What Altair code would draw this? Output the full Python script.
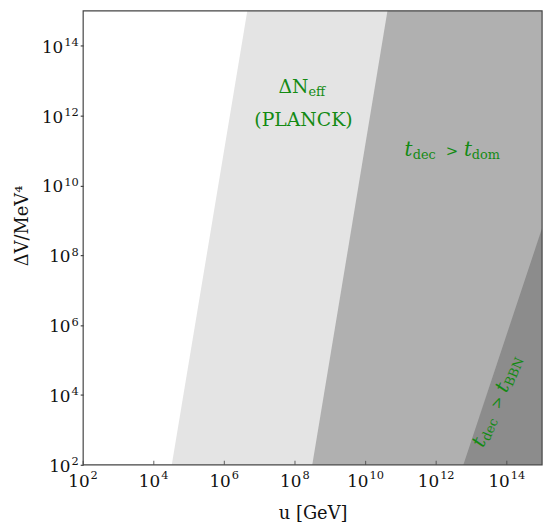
import altair as alt
import pandas as pd

# ---- data (log10 values) ----
tick_exponents = [2, 4, 6, 8, 10, 12, 14]
tick_values = [10.0 ** e for e in tick_exponents]

# left boundaries of the shaded regions: (log10 u, log10 DeltaV) end points
planck_logu = [4.51, 6.65]
planck_logV = [2.0, 15.0]
dom_logu = [8.49, 10.62]
dom_logV = [2.0, 15.0]
bbn_logu = [12.77, 15.0]
bbn_logV = [2.0, 8.78]
axis_min_log, axis_max_log = 2.0, 15.0

# annotation anchors (log10 u, log10 DeltaV)
neff_anchor = (8.38, 12.66)
planck_anchor = (8.24, 11.70)
dom_anchor = (12.45, 10.83)
bbn_anchor = (13.86, 3.73)

GREEN = "#138a13"
FONT = "DejaVu Serif"
INK = "#111111"
FRAME = "#444444"
W, H = 464, 459

def region_df(logu, logV):
    return pd.DataFrame({
        "u": [10 ** a for a in logu],
        "V": [10 ** b for b in logV],
        "umax": [10 ** axis_max_log] * len(logu),
    })

xscale = alt.Scale(type="log", domain=[10 ** axis_min_log, 10 ** axis_max_log], nice=False)
yscale = alt.Scale(type="log", domain=[10 ** axis_min_log, 10 ** axis_max_log], nice=False)

x_enc = alt.X("u:Q", scale=xscale, axis=alt.Axis(
    values=tick_values, labels=False, ticks=False, domain=False, grid=False,
    title="u [GeV]", titleX=232, titleY=54, titleAlign="center",
    titleBaseline="alphabetic"))
y_enc = alt.Y("V:Q", scale=yscale, axis=alt.Axis(
    values=tick_values, labels=False, tickSize=3, tickColor=FRAME, tickWidth=1.2,
    domain=False, grid=False, title="ΔV/MeV⁴", titleAngle=270, titleX=-61,
    titleY=217, titleAlign="center", titleBaseline="middle"))

def area(logu, logV, color):
    return alt.Chart(region_df(logu, logV)).mark_area(
        orient="horizontal", color=color, clip=True, opacity=1
    ).encode(y=y_enc, x=x_enc, x2="umax:Q")

layers = [
    area(planck_logu, planck_logV, "#e4e4e4"),
    area(dom_logu, dom_logV, "#b0b0b0"),
    area(bbn_logu, bbn_logV, "#8c8c8c"),
]

# tick labels: "10" with a raised exponent
tick_df = pd.DataFrame({
    "u": tick_values, "V": tick_values,
    "base": ["10"] * len(tick_exponents),
    "exp": [str(e) for e in tick_exponents],
    "ndig": [len(str(e)) for e in tick_exponents],
})
BASE_FS, EXP_FS = 17, 11.5
tick_chart = alt.Chart(tick_df)

# inward x ticks
layers.append(tick_chart.mark_tick(
    orient="vertical", size=4, thickness=1.2, color=FRAME
).encode(x=x_enc, y=alt.value(H - 2)))

for nd, base_dx, exp_dx, ybase_x, yexp_x in [(1, 6.5, 7.5, -12.8, -4.5), (2, 3, 4, -20.1, -4.5)]:
    sub = tick_chart.transform_filter(f"datum.ndig == {nd}")
    common = dict(font=FONT, color=INK, baseline="alphabetic")
    layers += [
        # x axis
        sub.mark_text(align="right", fontSize=BASE_FS, dx=base_dx, **common).encode(
            x=x_enc, y=alt.value(H + 22), text="base:N"),
        sub.mark_text(align="left", fontSize=EXP_FS, dx=exp_dx, **common).encode(
            x=x_enc, y=alt.value(H + 14.5), text="exp:N"),
        # y axis
        sub.mark_text(align="right", fontSize=BASE_FS, dy=7, **common).encode(
            x=alt.value(ybase_x), y=y_enc, text="base:N"),
        sub.mark_text(align="right", fontSize=EXP_FS, dy=0.5, **common).encode(
            x=alt.value(yexp_x), y=y_enc, text="exp:N"),
    ]

def piece(text, anchor, **kw):
    df = pd.DataFrame({"u": [10 ** anchor[0]], "V": [10 ** anchor[1]], "label": [text]})
    return alt.Chart(df).mark_text(font=FONT, color=GREEN, baseline="alphabetic", **kw).encode(
        x=x_enc, y=y_enc, text="label:N")

MAIN, SUB = 19, 13
layers += [
    piece("ΔN", neff_anchor, align="right", fontSize=MAIN),
    piece("eff", neff_anchor, align="left", fontSize=SUB, dy=3),
    piece("(PLANCK)", planck_anchor, align="center", fontSize=MAIN),
]

def tlabel(anchor, sub2, angle=0):
    kw = {"angle": angle} if angle else {}
    return [
        piece("t", anchor, align="right", fontSize=20, fontStyle="italic", dx=-40, **kw),
        piece("dec", anchor, align="right", fontSize=SUB, dx=-16.5, dy=3, **kw),
        piece(">", anchor, align="center", fontSize=15, **kw),
        piece("t", anchor, align="left", fontSize=20, fontStyle="italic", dx=12, **kw),
        piece(sub2, anchor, align="left", fontSize=SUB, dx=20, dy=3, **kw),
    ]

layers += tlabel(dom_anchor, "dom")
layers += tlabel(bbn_anchor, "BBN", angle=293)

# plot frame along the axis limits
frame_df = pd.DataFrame({"u": [10 ** axis_min_log], "umax": [10 ** axis_max_log],
                         "V": [10 ** axis_min_log], "Vmax": [10 ** axis_max_log]})
layers.append(alt.Chart(frame_df).mark_rect(
    fillOpacity=0, stroke=FRAME, strokeWidth=1.2
).encode(x=x_enc, x2="umax:Q", y=y_enc, y2="Vmax:Q"))

chart = alt.layer(*layers).properties(
    width=W, height=H,
    autosize=alt.AutoSizeParams(type="none"),
    padding={"left": 76, "top": 0, "right": 8, "bottom": 58},
).configure_view(
    strokeWidth=0
).configure_axis(
    titleFont=FONT, titleFontSize=18, titleColor=INK, titleFontWeight="normal"
)

chart.save("out.html", embed_options={"renderer": "svg", "actions": False})
